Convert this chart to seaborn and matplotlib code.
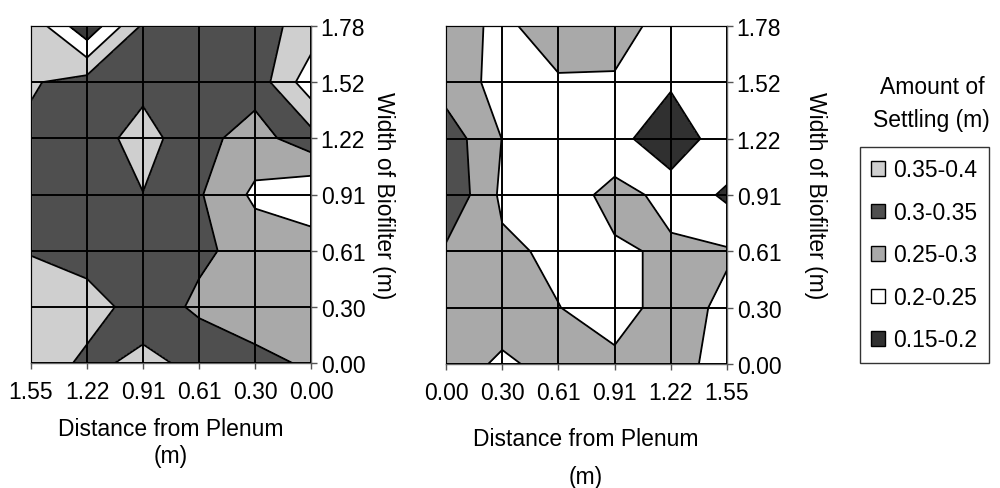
import numpy as np
import matplotlib
matplotlib.use("Agg")
import matplotlib.pyplot as plt
from matplotlib.patches import Patch
import seaborn as sns

# ---------------- data ----------------
distance_labels = ["0.00", "0.30", "0.61", "0.91", "1.22", "1.55"]
width_labels = ["0.00", "0.30", "0.61", "0.91", "1.22", "1.52", "1.78"]

# settling (m) at each node; rows = width 0.00 -> 1.78, cols = distance 0.00 -> 1.55
settling_left = [
    [0.295, 0.31, 0.34, 0.36, 0.34, 0.38],
    [0.28, 0.28, 0.29, 0.33, 0.37, 0.37],
    [0.28, 0.28, 0.31, 0.33, 0.33, 0.348],
    [0.21, 0.24, 0.305, 0.349, 0.33, 0.33],
    [0.33, 0.28, 0.315, 0.37, 0.325, 0.34],
    [0.43, 0.32, 0.32, 0.335, 0.33, 0.355],
    [0.37, 0.33, 0.33, 0.342, 0.49, 0.365],
]
settling_right = [
    [0.28, 0.24, 0.27, 0.26, 0.26, 0.24],
    [0.28, 0.28, 0.251, 0.23, 0.27, 0.24],
    [0.292, 0.26, 0.24, 0.245, 0.255, 0.255],
    [0.345, 0.24, 0.23, 0.262, 0.24, 0.19],
    [0.33, 0.249, 0.23, 0.225, 0.15, 0.245],
    [0.275, 0.235, 0.245, 0.245, 0.21, 0.23],
    [0.27, 0.24, 0.275, 0.27, 0.23, 0.23],
]

band_edges = [0.15, 0.20, 0.25, 0.30, 0.35, 0.40, 0.45, 0.60]
band_colors = ["#303030", "#ffffff", "#a9a9a9", "#4f4f4f", "#cfcfcf", "#ffffff", "#3a3a3a"]
legend_labels = ["0.35-0.4", "0.3-0.35", "0.25-0.3", "0.2-0.25", "0.15-0.2"]
legend_colors = ["#cfcfcf", "#4f4f4f", "#a9a9a9", "#ffffff", "#303030"]

# ---------------- style ----------------
sns.set_theme(style="white")
plt.rcParams["font.family"] = ["Liberation Sans", "DejaVu Sans"]
plt.rcParams["text.color"] = "black"
plt.rcParams["axes.labelcolor"] = "black"
plt.rcParams["xtick.color"] = "black"
plt.rcParams["ytick.color"] = "black"
FS = 16.5

W, H = 1000, 489
fig = plt.figure(figsize=(W / 100, H / 100), dpi=100)


def px_axes(x0, y0, x1, y1):
    return fig.add_axes([x0 / W, 1 - y1 / H, (x1 - x0) / W, (y1 - y0) / H])


ax1 = px_axes(31, 27, 311, 364)
ax2 = px_axes(446, 27, 727, 365)

xi = np.arange(len(distance_labels))
yi = np.arange(len(width_labels))
XX, YY = np.meshgrid(xi, yi)

for ax, data, invert in [(ax1, settling_left, True), (ax2, settling_right, False)]:
    Z = np.array(data)
    ax.contourf(XX, YY, Z, levels=band_edges, colors=band_colors, zorder=1)
    ax.contour(XX, YY, Z, levels=band_edges[1:-1], colors="black",
               linewidths=1.3, zorder=2)
    ax.set_xlim(0, len(distance_labels) - 1)
    ax.set_ylim(0, len(width_labels) - 1)
    if invert:
        ax.invert_xaxis()
    ax.set_xticks(xi)
    ax.set_xticklabels(distance_labels)
    ax.set_yticks(yi)
    ax.set_yticklabels(width_labels)
    ax.yaxis.tick_right()
    ax.tick_params(axis="both", direction="out", length=4, width=1,
                   color="#555555", labelsize=FS, labelcolor="black")
    ax.tick_params(axis="x", bottom=True, top=False, pad=8)
    ax.tick_params(axis="y", right=True, left=False, pad=3)
    ax.grid(True, color="black", linewidth=1.4)
    ax.set_axisbelow(False)
    for s in ax.spines.values():
        s.set_color("#666666")
        s.set_linewidth(1.0)

# axis titles
fig.text(171 / W, 1 - 430 / H, "Distance from Plenum", ha="center", va="center", fontsize=FS)
fig.text(171 / W, 1 - 457 / H, "(m)", ha="center", va="center", fontsize=FS)
fig.text(586 / W, 1 - 440 / H, "Distance from Plenum", ha="center", va="center", fontsize=FS)
fig.text(586 / W, 1 - 478 / H, "(m)", ha="center", va="center", fontsize=FS)
fig.text(384 / W, 1 - 196 / H, "Width of Biofilter (m)", rotation=270,
         ha="center", va="center", fontsize=FS)
fig.text(816 / W, 1 - 196 / H, "Width of Biofilter (m)", rotation=270,
         ha="center", va="center", fontsize=FS)

# legend
fig.text(932 / W, 1 - 87 / H, "Amount of", ha="center", va="center", fontsize=FS)
fig.text(931 / W, 1 - 120 / H, "Settling (m)", ha="center", va="center", fontsize=FS)
handles = [Patch(facecolor=c, edgecolor="black", linewidth=1.0) for c in legend_colors]
leg = fig.legend(handles, legend_labels, loc="upper left",
                 bbox_to_anchor=(860 / W, 1 - 148 / H), fontsize=FS,
                 frameon=True, fancybox=False, handlelength=0.6, handleheight=0.6,
                 handletextpad=0.35, labelspacing=0.85, borderpad=0.5,
                 borderaxespad=0)
leg.get_frame().set_edgecolor("black")
leg.get_frame().set_linewidth(1.0)
for t in leg.get_texts():
    t.set_color("black")

fig.savefig("out.png", dpi=100, facecolor="white")
